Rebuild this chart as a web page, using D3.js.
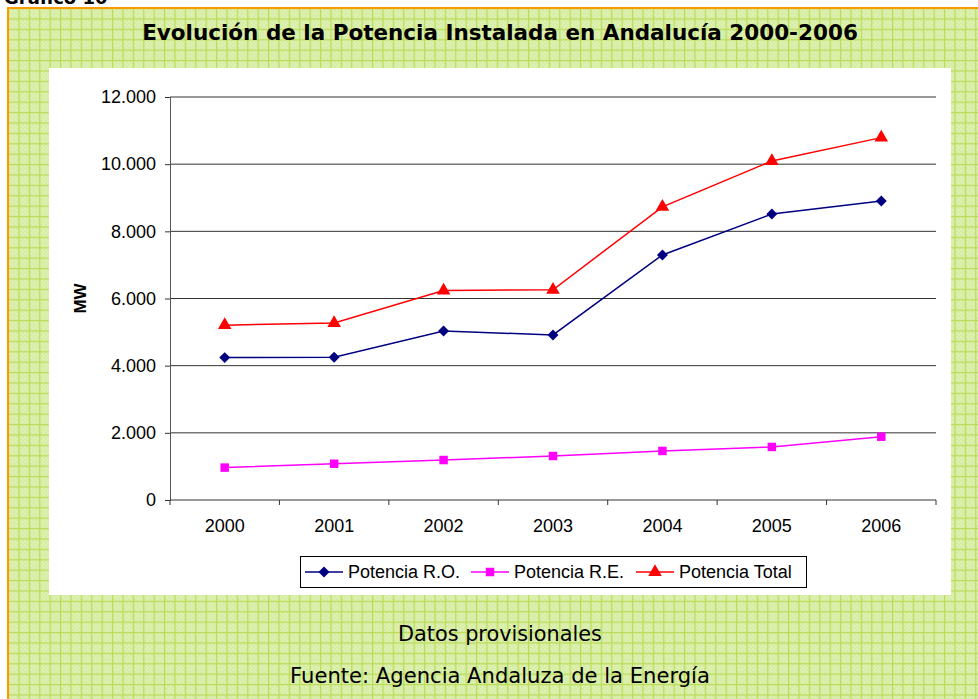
<!DOCTYPE html>
<html>
<head>
<meta charset="utf-8">
<script src="https://cdnjs.cloudflare.com/ajax/libs/d3/7.8.5/d3.min.js"></script>
<style>
  body { margin: 0; background: #fff; }
  svg { display: block; }
</style>
</head>
<body>
<div id="chartHolder"></div>
<script>
// data (MW)
const years = ["2000", "2001", "2002", "2003", "2004", "2005", "2006"];
const potenciaRO = [4240, 4250, 5030, 4915, 7295, 8515, 8905];
const potenciaRE = [965, 1080, 1190, 1310, 1460, 1580, 1885];
const potenciaTotal = [5205, 5270, 6235, 6260, 8730, 10095, 10790];
const seriesNames = ["Potencia R.O.", "Potencia R.E.", "Potencia Total"];
const yTicks = [0, 2000, 4000, 6000, 8000, 10000, 12000];

const w = 978;
const h = 699;

const svg = d3.select("#chartHolder")
  .append("svg")
  .attr("width", w)
  .attr("height", h);

// green checked background pattern
const defs = svg.append("defs");
const pat = defs.append("pattern")
  .attr("id", "greenGrid")
  .attr("patternUnits", "userSpaceOnUse")
  .attr("width", 10.4)
  .attr("height", 10.4)
  .attr("x", 8).attr("y", 8);
pat.append("rect").attr("width", 10.4).attr("height", 10.4).attr("fill", "#d6eda3");
// light dither dots
[[2, 2], [4, 4], [6, 2], [2, 6], [6, 6], [4, 8], [8, 4], [8, 8]].forEach(p => {
  pat.append("rect").attr("x", p[0]).attr("y", p[1]).attr("width", 1.2).attr("height", 1.2).attr("fill", "#ecf7d2");
});
pat.append("rect").attr("x", 0).attr("y", 0).attr("width", 10.4).attr("height", 1.2).attr("fill", "#bcdd5c");
pat.append("rect").attr("x", 0).attr("y", 0).attr("width", 1.2).attr("height", 10.4).attr("fill", "#bcdd5c");

svg.append("rect")
  .attr("x", 8).attr("y", 8)
  .attr("width", w + 10).attr("height", h + 10)
  .attr("fill", "url(#greenGrid)")
  .attr("stroke", "#ff9900")
  .attr("stroke-width", 2);

// heading above the frame, mostly cut off in the original
svg.append("text")
  .attr("x", 4).attr("y", 4)
  .style("font-family", "DejaVu Sans, sans-serif")
  .style("font-weight", "bold")
  .style("font-size", "18px")
  .text("Gráfico 10");

// fits a text element to a given width by changing font size
function fitText(sel, width) {
  const node = sel.node();
  let fs = parseFloat(sel.style("font-size"));
  const len = node.getComputedTextLength();
  sel.style("font-size", (fs * width / len).toFixed(2) + "px");
}

const title = svg.append("text")
  .attr("x", 500).attr("y", 40)
  .attr("text-anchor", "middle")
  .style("font-family", "DejaVu Sans, sans-serif")
  .style("font-weight", "bold")
  .style("font-size", "20px")
  .text("Evolución de la Potencia Instalada en Andalucía 2000-2006");
fitText(title, 716);

// white chart area
svg.append("rect")
  .attr("x", 49).attr("y", 68)
  .attr("width", 902).attr("height", 527)
  .attr("fill", "#fff");

const pLeft = 170, pRight = 936, pTop = 97, pBottom = 500;

const x = d3.scaleBand()
  .domain(years)
  .range([pLeft, pRight]);

const y = d3.scaleLinear()
  .domain([0, 12000])
  .range([pBottom, pTop]);

const loc = d3.formatLocale({ decimal: ",", thousands: ".", grouping: [3], currency: ["", ""] });
const fmt = loc.format(",.0f");

// gridlines
svg.append("g")
  .selectAll("line")
  .data(yTicks.filter(d => d > 0))
  .enter()
  .append("line")
  .attr("x1", pLeft).attr("x2", pRight)
  .attr("y1", d => y(d)).attr("y2", d => y(d))
  .attr("stroke", "#333")
  .attr("stroke-width", 1);

const yAxis = d3.axisLeft(y)
  .tickValues(yTicks)
  .tickSize(5)
  .tickPadding(9)
  .tickFormat(fmt);
const gy = svg.append("g")
  .attr("transform", "translate(" + pLeft + ",0)")
  .call(yAxis);
gy.select(".domain").attr("stroke", "#555");
gy.selectAll(".tick line").attr("stroke", "#333");
gy.selectAll("text")
  .style("font-family", "Liberation Sans, Arial, sans-serif")
  .style("font-size", "18px")
  .attr("fill", "#000");

const xAxis = d3.axisBottom(x)
  .tickSize(0)
  .tickPadding(19);
const gx = svg.append("g")
  .attr("transform", "translate(0," + pBottom + ")")
  .call(xAxis);
gx.select(".domain").remove();
gx.selectAll("text")
  .style("font-family", "Liberation Sans, Arial, sans-serif")
  .style("font-size", "18px")
  .attr("fill", "#000");

// x axis line and boundary ticks
svg.append("line")
  .attr("x1", pLeft).attr("x2", pRight)
  .attr("y1", pBottom).attr("y2", pBottom)
  .attr("stroke", "#333");
const bounds = years.map(d => x(d)).concat([x.range()[1]]);
svg.append("g")
  .selectAll("line")
  .data(bounds)
  .enter()
  .append("line")
  .attr("x1", d => d).attr("x2", d => d)
  .attr("y1", pBottom).attr("y2", pBottom + 5)
  .attr("stroke", "#333");

svg.append("text")
  .attr("text-anchor", "middle")
  .attr("transform", "translate(86," + ((pTop + pBottom) / 2) + ")rotate(-90)")
  .style("font-family", "Liberation Sans, Arial, sans-serif")
  .style("font-weight", "bold")
  .style("font-size", "17px")
  .text("MW");

const cx = (d, i) => x(years[i]) + x.bandwidth() / 2;
const line = d3.line()
  .x(cx)
  .y(d => y(d));

const colors = ["#000080", "#ff00ff", "#ff0000"];
const shapes = [d3.symbolSquare, d3.symbolSquare, d3.symbolTriangle];
const rotations = [45, 0, 0]; // first square turned into a diamond
const sizes = [60, 72, 80];
const allSeries = [potenciaRO, potenciaRE, potenciaTotal];

allSeries.forEach((s, k) => {
  svg.append("path")
    .datum(s)
    .attr("d", line)
    .attr("fill", "none")
    .attr("stroke", colors[k])
    .attr("stroke-width", 1.5);
  svg.append("g")
    .selectAll("path")
    .data(s)
    .enter()
    .append("path")
    .attr("d", d3.symbol().type(shapes[k]).size(sizes[k]))
    .attr("transform", (d, i) => "translate(" + cx(d, i) + "," + y(d) + ")rotate(" + rotations[k] + ")")
    .attr("fill", colors[k]);
});

// legend
svg.append("rect")
  .attr("x", 300.5).attr("y", 556.5)
  .attr("width", 506).attr("height", 31)
  .attr("fill", "#fff")
  .attr("stroke", "#000")
  .attr("stroke-width", 1);

const legendX = [305, 471, 636];
const legend = svg.selectAll(".legend")
  .data(seriesNames)
  .enter()
  .append("g")
  .attr("class", "legend")
  .attr("transform", (d, i) => "translate(" + legendX[i] + ",572)");
legend.append("line")
  .attr("x1", 0).attr("x2", 38)
  .attr("stroke", (d, i) => colors[i])
  .attr("stroke-width", 1.5);
legend.append("path")
  .attr("d", (d, i) => d3.symbol().type(shapes[i]).size(sizes[i])())
  .attr("transform", (d, i) => "translate(19,0)rotate(" + rotations[i] + ")")
  .attr("fill", (d, i) => colors[i]);
legend.append("text")
  .attr("x", 43)
  .attr("dy", "0.35em")
  .style("font-family", "Liberation Sans, Arial, sans-serif")
  .style("font-size", "18px")
  .text(d => d);

// footer notes
const note1 = svg.append("text")
  .attr("x", 500).attr("y", 641)
  .attr("text-anchor", "middle")
  .style("font-family", "DejaVu Sans, sans-serif")
  .style("font-size", "20px")
  .text("Datos provisionales");
fitText(note1, 204);

const note2 = svg.append("text")
  .attr("x", 500).attr("y", 683)
  .attr("text-anchor", "middle")
  .style("font-family", "DejaVu Sans, sans-serif")
  .style("font-size", "20px")
  .text("Fuente: Agencia Andaluza de la Energía");
fitText(note2, 420);
</script>
</body>
</html>
